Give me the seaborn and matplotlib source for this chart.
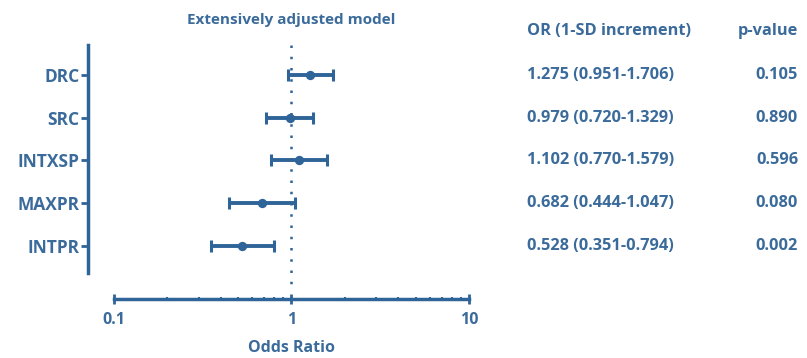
import matplotlib
matplotlib.use("Agg")
import matplotlib.pyplot as plt
import seaborn as sns
import pandas as pd
import numpy as np
from matplotlib.ticker import FixedLocator, NullFormatter

# ---- data ----
variables = ["DRC", "SRC", "INTXSP", "MAXPR", "INTPR"]
odds_ratio = [1.275, 0.979, 1.102, 0.682, 0.528]
ci_low = [0.951, 0.720, 0.770, 0.444, 0.351]
ci_high = [1.706, 1.329, 1.579, 1.047, 0.794]
or_text = ["1.275 (0.951-1.706)", "0.979 (0.720-1.329)", "1.102 (0.770-1.579)",
           "0.682 (0.444-1.047)", "0.528 (0.351-0.794)"]
p_values = ["0.105", "0.890", "0.596", "0.080", "0.002"]
x_ticks = [0.1, 1, 10]
x_tick_labels = ["0.1", "1", "10"]

df = pd.DataFrame({"var": variables, "OR": odds_ratio, "lo": ci_low, "hi": ci_high})

sns.set_theme(style="white")
plt.rcParams['font.family'] = ['Open Sans', 'DejaVu Sans']

C = "#2f6498"
TC = "#3b6b9b"

W, H = 807, 358
fig = plt.figure(figsize=(W / 100, H / 100), dpi=100)
ax = fig.add_axes([88 / W, 1 - 299 / H, (469 - 88) / W, (299 - 45) / H])

ypos = np.arange(len(variables))
ax.errorbar(df["OR"], ypos, xerr=[df["OR"] - df["lo"], df["hi"] - df["OR"]],
            fmt="none", ecolor=C, elinewidth=2.8, capsize=4.5, capthick=2.2, zorder=3)
sns.scatterplot(x="OR", y=ypos, data=df, ax=ax, color=C, s=45, edgecolor=C,
                linewidth=0, zorder=4, legend=False)

ax.set_xscale("log")
ax.set_xlim(0.0714, 10)
ax.set_ylim(5.24, -0.70)

# reference line
ax.plot([1, 1], [-0.70, 5.0], linestyle=(0, (1, 3.5)), color=C, lw=1.8, zorder=2)

for s in ["top", "right"]:
    ax.spines[s].set_visible(False)
ax.spines["left"].set_bounds(4.63, -0.70)
ax.spines["bottom"].set_bounds(0.1, 10)
for s in ["left", "bottom"]:
    ax.spines[s].set_color(C)
    ax.spines[s].set_linewidth(2.5)

ax.set_yticks(ypos)
ax.set_yticklabels(variables, fontsize=12.5, fontweight="bold", color=TC)
ax.xaxis.set_major_locator(FixedLocator(x_ticks))
ax.set_xticklabels(x_tick_labels, fontsize=11.5, fontweight="bold", color=TC)
minors = [m * d for d in [0.1, 1] for m in range(2, 10)]
ax.xaxis.set_minor_locator(FixedLocator(minors))
ax.xaxis.set_minor_formatter(NullFormatter())
ax.tick_params(axis="y", which="major", direction="out", length=5, width=2, color=C, pad=1, left=True)
ax.tick_params(axis="x", which="major", direction="inout", length=7, width=2, color=C, pad=6, bottom=True)
ax.tick_params(axis="x", which="minor", direction="inout", length=3.5, width=1.5, color=C, bottom=True)
ax.set_xlabel("")
ax.set_ylabel("")
fig.text(291 / W, 1 - 348 / H, "Odds Ratio", ha="center", va="center",
         fontsize=11.5, fontweight="bold", color=TC)

fig.text(291 / W, 1 - 20 / H, "Extensively adjusted model", ha="center", va="center",
         fontsize=11, fontweight="bold", color=TC)

# table
FS = 11.8
fig.text(527 / W, 1 - 31 / H, "OR (1-SD increment)", ha="left", va="center",
         fontsize=FS, fontweight="bold", color=TC)
fig.text(768 / W, 1 - 31 / H, "p-value", ha="center", va="center",
         fontsize=FS, fontweight="bold", color=TC)
row_y = [75, 118, 160, 203, 246]
for t, p, yy in zip(or_text, p_values, row_y):
    fig.text(527 / W, 1 - yy / H, t, ha="left", va="center",
             fontsize=FS, fontweight="bold", color=TC)
    fig.text(777 / W, 1 - yy / H, p, ha="center", va="center",
             fontsize=FS, fontweight="bold", color=TC)

fig.savefig("out.png", dpi=100)
